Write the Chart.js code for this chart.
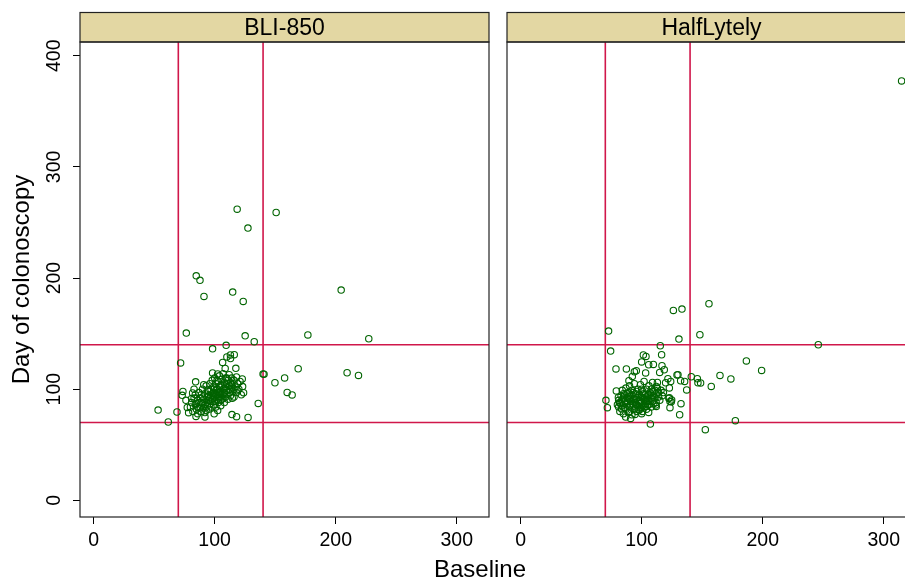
<!DOCTYPE html>
<html><head><meta charset="utf-8">
<script src="https://cdn.jsdelivr.net/npm/chart.js@4.4.1/dist/chart.umd.min.js"></script>
<style>
html,body{margin:0;padding:0;background:#fff;overflow:hidden;}
#wrap{position:relative;width:905px;height:582px;overflow:hidden;background:#fff;}
canvas{position:absolute;top:0;}
#c1{left:0;}
#c2{left:495px;}
#xtitle{position:absolute;left:380px;width:200px;top:555px;text-align:center;font:24px 'Liberation Sans',Arial,sans-serif;color:#000;line-height:28px;}
</style></head>
<body>
<div id="wrap">
<canvas id="c1" width="495" height="582"></canvas>
<canvas id="c2" width="435" height="582"></canvas>
<div id="xtitle">Baseline</div>
</div>
<script>
// ---- data ----
const panels = ['BLI-850', 'HalfLytely'];
const xTicks = [0, 100, 200, 300];
const yTicks = [0, 100, 200, 300, 400];
const refX = [70, 140];
const refY = [70, 140];

const bliBaseline = [118.6,150.8,127.5,84.8,87.9,91.2,114.9,123.6,204.5,76.6,125.2,132.7,177,227.3,98.3,109.5,71.9,169,140,140.8,149.8,157.8,159.9,164,136,209.4,218.8,53.3,61.7,68.9,127.6,118.1,114.3,92,84.6,78.5,84.3,99.6,102.5,122.8,123.1,118.5,123.9,114.6,117.5,113,116.2,106.6,110.1,113.1,108.7,98.3,102.5,73.8,73.2,76.3,77.4,81.8,81,
80,81,82,83,84,84,85,86,86,87,87,88,88,89,89,90,90,91,91,92,92,93,93,94,94,95,95,95,96,96,97,97,97,98,98,99,99,99,100,100,100,101,101,101,102,102,102,103,103,103,104,104,104,105,105,105,106,106,106,107,107,107,108,108,108,109,109,110,110,110,111,111,112,112,112,113,113,114,114,115,115,116,116,117,118,118,119,120,121,122,83,86,90,92,94,96,98,100,102,104,106,108,110,112,114,116,91,93,97,99,101,103,105,107,109,89,87,85,95,100];
const bliDay = [262,259,245,202,198,183.5,187.4,179,189.2,150.5,148,142.7,148.8,145.4,136.3,139.5,123.6,118.4,113.7,113.5,105.8,110.1,97.1,94.8,87.2,114.8,112.4,81.2,70.5,79.5,74.6,75.3,77.2,75,75.5,78.9,106.6,77.8,80.8,109.2,102.4,99.2,96.9,91.9,118.8,130.8,131.1,124.1,129,127.6,118.7,114.6,113.7,98,94.5,90,83.6,96.6,91.7,
84,88,80,92,86,95,82,90,78,88,97,84,92,80,95,87,100,83,91,96,79,88,103,85,93,98,90,82,87,105,94,100,84,91,108,86,97,102,93,89,110,99,84,105,95,91,100,88,107,97,93,102,112,90,98,85,104,95,109,100,92,114,97,106,88,102,110,95,105,99,91,108,103,97,113,106,94,101,110,98,105,108,93,102,97,111,105,100,107,95,100,84,93,86,99,92,96,101,108,97,91,101,110,100,104,100,104,81,89,93,95,92,103,96,93,88,83,87,94,96];

const halfBaseline = [155.6,126.2,133.3,72.7,148.1,130.8,245.9,74.4,115.4,116.5,186.5,199.1,164.7,173.7,141,146,146.5,157.5,137.2,132.5,131.4,123.4,124.5,122.9,177.4,152.6,107.2,70.5,71.7,78.8,87.4,101.4,103.6,100,105.8,109.7,116.8,118.7,114.9,121.7,130,132.2,135.5,122.9,111.6,112.1,105.8,94,95.6,103.3,129.2,124,119.8,113,112.1,122.5,123.4,124.8,148.7,314.7,79.1,80.8,81.6,83.5,89.5,92.3,86.8,90.9,94.5,97.8,103.3,100.6,
80,81,82,83,84,84,85,86,86,87,87,88,88,89,89,90,90,91,91,92,92,93,93,94,94,95,95,96,96,97,97,98,98,99,99,100,100,100,101,101,102,102,103,103,104,104,105,105,106,106,107,107,108,108,109,109,110,110,111,111,112,112,113,114,114,115,116,117,118,82,85,88,90,92,94,96,98,100,102,104,106,108,110,84,86,88,90,92,94,96,98,100,102,104,106,95,97,99,101,103,105,91,89,87,93,83,85,81];
const halfDay = [176.9,170.9,172.1,152.3,149,145.1,140,134.3,139.1,131,125.4,116.9,112.4,109.2,111.2,109.4,105.8,102.5,99.3,87,77,83.4,88.8,92.4,71.7,63.6,68.7,90,83.4,118.2,118.2,130.8,129.5,124.5,122,122.3,121.1,117.5,115.1,109.4,113,107.6,107,101.1,85.8,84.5,79.1,115.7,116.6,114.6,112.8,107,105.8,106.1,102.5,91.7,89,90.3,105.6,377.4,98.4,92.6,87.6,82.2,107.6,111.5,75,73.7,77.3,81.6,84.5,80,
86,90,80,94,85,99,78,89,95,82,101,86,92,79,97,84,103,89,94,77,99,86,91,82,105,88,96,80,92,100,85,90,95,83,104,88,93,78,98,85,91,107,87,95,82,100,90,94,86,103,92,97,84,100,89,106,94,87,99,92,96,88,101,93,97,90,99,94,97,88,92,96,80,87,91,86,81,100,84,89,95,92,98,91,83,89,91,95,88,98,87,84,96,93,89,84,93,89,92,90,86,86,93,90,97,87,96,84];

// ---- styling ----
const FONT = "'Liberation Sans', Arial, sans-serif";
const RED = '#D0174A';
const GREEN = '#006400';
const STRIP = '#E3D7A3';
const X_MIN = -11.2, X_MAX = 326.6, Y_MIN = -15, Y_MAX = 412.4;

const panelPlugin = {
  id: 'panel',
  beforeDatasetsDraw(chart) {
    const {ctx, chartArea: a, scales: {x, y}} = chart;
    ctx.save();
    ctx.beginPath();
    ctx.rect(a.left, a.top, a.right - a.left, a.bottom - a.top);
    ctx.clip();
    ctx.strokeStyle = RED;
    ctx.lineWidth = 1.6;
    refX.forEach(v => {
      const p = x.getPixelForValue(v);
      ctx.beginPath(); ctx.moveTo(p, a.top); ctx.lineTo(p, a.bottom); ctx.stroke();
    });
    refY.forEach(v => {
      const p = y.getPixelForValue(v);
      ctx.beginPath(); ctx.moveTo(a.left, p); ctx.lineTo(a.right, p); ctx.stroke();
    });
    ctx.restore();
  },
  afterDraw(chart, args, opts) {
    const {ctx, chartArea: a} = chart;
    ctx.save();
    // strip
    const sh = 29.5;
    ctx.fillStyle = STRIP;
    ctx.fillRect(a.left, a.top - sh, a.right - a.left, sh);
    ctx.strokeStyle = '#222';
    ctx.lineWidth = 1.2;
    ctx.strokeRect(a.left, a.top - sh, a.right - a.left, sh);
    ctx.fillStyle = '#000';
    ctx.font = '23px ' + FONT;
    ctx.textAlign = 'center';
    ctx.textBaseline = 'middle';
    ctx.fillText(opts.title, (a.left + a.right) / 2, a.top - sh / 2 + 1);
    // frame
    ctx.strokeRect(a.left, a.top, a.right - a.left, a.bottom - a.top);
    ctx.restore();
  }
};

function makeChart(id, title, xs, ys, showY, pad) {
  const pts = xs.map((v, i) => ({x: v, y: ys[i]}));
  return new Chart(document.getElementById(id), {
    type: 'scatter',
    data: {datasets: [{
      data: pts,
      pointStyle: 'circle',
      pointRadius: 3.2,
      pointBorderWidth: 1.1,
      pointBorderColor: GREEN,
      pointBackgroundColor: 'rgba(0,0,0,0)',
      pointHoverRadius: 3.2
    }]},
    options: {
      responsive: false,
      animation: false,
      events: [],
      layout: {padding: pad},
      plugins: {legend: {display: false}, tooltip: {enabled: false}, panel: {title: title}},
      scales: {
        x: {
          type: 'linear', min: X_MIN, max: X_MAX,
          afterBuildTicks: s => { s.ticks = xTicks.map(v => ({value: v})); },
          afterFit: s => { s.height = 65; },
          grid: {drawOnChartArea: false, drawTicks: true, tickLength: 7, color: '#000', lineWidth: 1},
          border: {display: false},
          ticks: {minRotation: 0, maxRotation: 0, padding: 5, color: '#000', font: {family: FONT, size: 19.5}}
        },
        y: {
          type: 'linear', min: Y_MIN, max: Y_MAX, display: showY,
          afterBuildTicks: s => { s.ticks = yTicks.map(v => ({value: v})); },
          afterFit: s => { s.width = showY ? 80 : 0; },
          grid: {drawOnChartArea: false, drawTicks: true, tickLength: 7, color: '#000', lineWidth: 1},
          border: {display: false},
          ticks: {minRotation: 90, maxRotation: 90, crossAlign: 'center', padding: 2, color: '#000', font: {family: FONT, size: 19.5}},
          title: {display: true, text: 'Day of colonoscopy', color: '#000', font: {family: FONT, size: 24}, padding: {top: 8, bottom: 0}}
        }
      }
    },
    plugins: [panelPlugin]
  });
}

makeChart('c1', panels[0], bliBaseline, bliDay, true, {top: 42, right: 6, left: 0, bottom: 0});
makeChart('c2', panels[1], halfBaseline, halfDay, false, {top: 42, right: 14, left: 12, bottom: 0});
</script>
</body></html>
